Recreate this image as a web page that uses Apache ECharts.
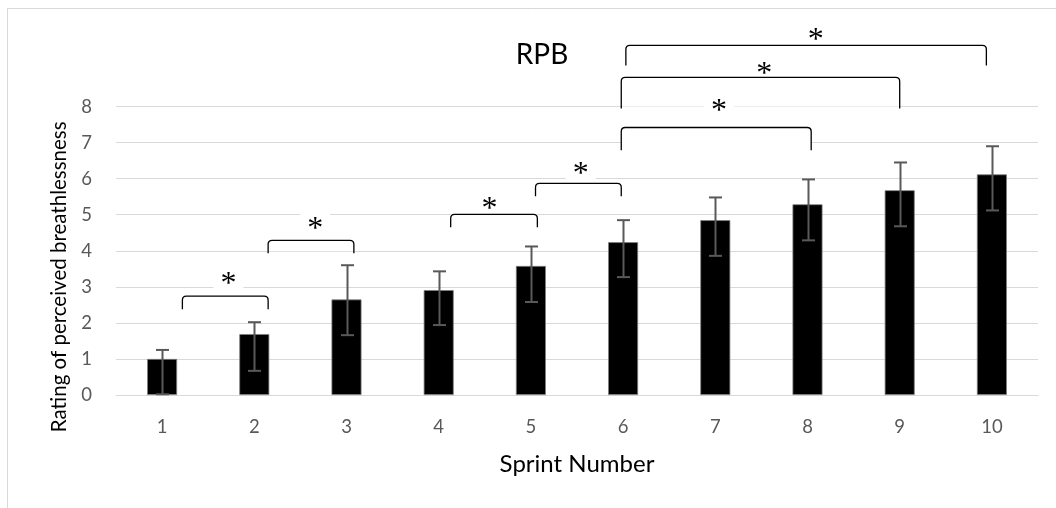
<!DOCTYPE html>
<html><head><meta charset="utf-8">
<script src="https://cdn.jsdelivr.net/npm/echarts@6/dist/echarts.min.js"></script>
<style>html,body{margin:0;padding:0;background:#fff}#c{width:1056px;height:508px}</style>
</head><body><div id="c"></div>
<script>
const categories = ['1', '2', '3', '4', '5', '6', '7', '8', '9', '10'];
const meanRPB   = [1.00, 1.69, 2.65, 2.91, 3.58, 4.24, 4.85, 5.29, 5.68, 6.12];
const errTop    = [1.25, 2.02, 3.60, 3.43, 4.12, 4.85, 5.48, 5.98, 6.45, 6.90];
const errBottom = [0.02, 0.67, 1.66, 1.94, 2.58, 3.27, 3.86, 4.29, 4.68, 5.12];
const yMin = 0, yMax = 8, yStep = 1;
// significance brackets: [start (category position, 0-based), end, top value, leg end value]
const brackets = [
  [0.22, 1.15, 2.74, 2.38],
  [1.15, 2.08, 4.29, 3.93],
  [3.13, 4.07, 5.01, 4.65],
  [4.05, 4.98, 5.87, 5.51],
  [4.98, 7.04, 7.42, 6.79],
  [4.98, 8.00, 8.81, 7.95],
  [5.03, 8.94, 9.70, 9.14]
];
// asterisk marks: [category position, value]
const stars = [
  [0.72, 3.27], [1.66, 4.79], [3.55, 5.35], [4.54, 6.32],
  [6.04, 8.06], [6.53, 9.09], [7.09, 10.03]
];
const starText = '*';

const FONT = 'Lato, "Open Sans", sans-serif';
const chart = echarts.init(document.getElementById('c'), null, {renderer: 'canvas'});

function catX(api, f) {
  const a = api.coord([0, 0])[0], b = api.coord([1, 0])[0];
  return a + f * (b - a);
}

const option = {
  backgroundColor: '#ffffff',
  animation: false,
  title: {
    text: 'RPB', left: 537, top: 36, textAlign: 'center',
    textStyle: {fontFamily: FONT, fontSize: 28, fontWeight: 'normal', color: '#000'}
  },
  grid: {left: 116, right: 18, top: 106.6, bottom: 113, containLabel: false},
  xAxis: {
    type: 'category', data: categories,
    name: 'Sprint Number', nameLocation: 'middle', nameGap: 57,
    nameTextStyle: {fontFamily: FONT, fontSize: 24, color: '#000'},
    axisLine: {lineStyle: {color: '#d9d9d9', width: 1}},
    axisTick: {show: false},
    axisLabel: {fontFamily: FONT, fontSize: 18.5, color: '#595959', margin: 23}
  },
  yAxis: {
    type: 'value', min: yMin, max: yMax, interval: yStep,
    name: 'Rating of perceived breathlessness', nameLocation: 'middle', nameGap: 44,
    nameTextStyle: {fontFamily: FONT, fontSize: 20.5, color: '#000', padding: [0, 52, 0, 0]},
    axisLine: {show: false}, axisTick: {show: false},
    axisLabel: {fontFamily: FONT, fontSize: 18.5, color: '#595959', margin: 24},
    splitLine: {lineStyle: {color: '#d9d9d9', width: 1}}
  },
  graphic: [
    {type: 'line', shape: {x1: 7.5, y1: 8, x2: 7.5, y2: 508}, style: {stroke: '#d9d9d9', lineWidth: 1}, silent: true},
    {type: 'line', shape: {x1: 7, y1: 8.5, x2: 1056, y2: 8.5}, style: {stroke: '#d9d9d9', lineWidth: 1}, silent: true}
  ],
  series: [
    {
      type: 'bar', data: meanRPB, barWidth: 30, z: 2,
      itemStyle: {color: '#000', borderColor: '#7f7f7f', borderWidth: 0.8}
    },
    {
      type: 'custom', z: 3,
      data: categories.map((c, i) => [i, errBottom[i], errTop[i]]),
      encode: {x: 0, y: [1, 2]},
      renderItem: function (params, api) {
        const lo = api.coord([api.value(0), api.value(1)]);
        const hi = api.coord([api.value(0), api.value(2)]);
        const x = Math.round(lo[0]) + 0.5, w = 6.5;
        const st = {stroke: '#595959', lineWidth: 2};
        return {type: 'group', children: [
          {type: 'line', shape: {x1: x, y1: lo[1], x2: x, y2: hi[1]}, style: st},
          {type: 'line', shape: {x1: x - w, y1: hi[1], x2: x + w, y2: hi[1]}, style: st},
          {type: 'line', shape: {x1: x - w, y1: lo[1], x2: x + w, y2: lo[1]}, style: st}
        ]};
      }
    },
    {
      // white boxes behind asterisks
      type: 'custom', z: 4, clip: false,
      data: stars.map((s, i) => [i, s[1]]),
      renderItem: function (params, api) {
        const s = stars[params.dataIndex];
        const x = catX(api, s[0]), y = api.coord([0, s[1]])[1];
        return {type: 'rect', shape: {x: x - 15, y: y - 13, width: 30, height: 27}, style: {fill: '#fff'}};
      }
    },
    {
      type: 'custom', z: 5, clip: false,
      data: brackets.map((b, i) => [i, b[2]]),
      renderItem: function (params, api) {
        const b = brackets[params.dataIndex];
        const x1 = catX(api, b[0]), x2 = catX(api, b[1]);
        const yt = api.coord([0, b[2]])[1], yb = api.coord([0, b[3]])[1];
        const r = 4;
        const d = 'M' + x1 + ' ' + yb + ' L' + x1 + ' ' + (yt + r) +
          ' Q' + x1 + ' ' + yt + ' ' + (x1 + r) + ' ' + yt +
          ' L' + (x2 - r) + ' ' + yt +
          ' Q' + x2 + ' ' + yt + ' ' + x2 + ' ' + (yt + r) +
          ' L' + x2 + ' ' + yb;
        return {type: 'group', children: [
          {type: 'rect', shape: {x: x1, y: yt, width: x2 - x1, height: yb - yt - 2}, style: {fill: '#fff'}},
          {type: 'path', shape: {pathData: d}, style: {stroke: '#000', lineWidth: 1.3, fill: null}}
        ]};
      }
    },
    {
      type: 'custom', z: 6, clip: false,
      data: stars.map((s, i) => [i, s[1]]),
      renderItem: function (params, api) {
        const s = stars[params.dataIndex];
        const x = catX(api, s[0]), y = api.coord([0, s[1]])[1];
        return {type: 'text', x: x, y: y + 7, style: {
          text: starText, fill: '#000', font: '32px "Liberation Serif", serif',
          align: 'center', verticalAlign: 'middle'
        }};
      }
    }
  ]
};
chart.setOption(option);
</script>
</body></html>
